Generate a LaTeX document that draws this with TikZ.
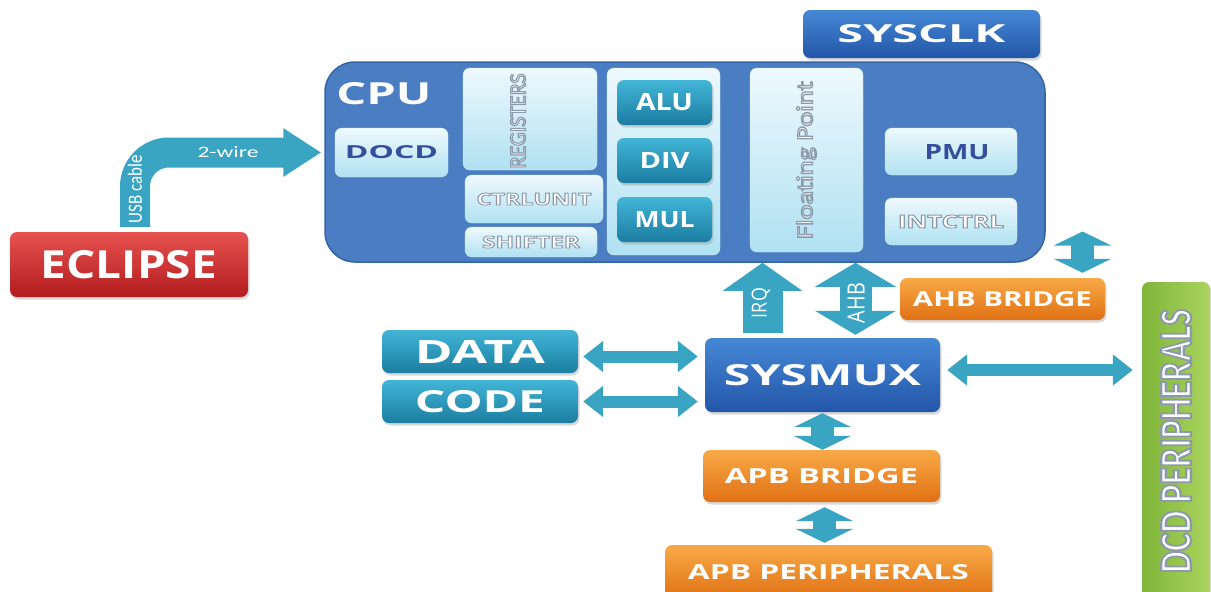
\documentclass[tikz,border=0pt]{standalone}
\usepackage{fontspec}
\setmainfont{Open Sans}
\newfontfamily\calfont{Carlito}
\usetikzlibrary{positioning,arrows.meta,shadows}

% palette
\definecolor{cpublue}{HTML}{4A7DC1}
\definecolor{cpuedge}{HTML}{3464A6}
\definecolor{deeptop}{HTML}{4688D6}
\definecolor{deepbot}{HTML}{2356A8}
\definecolor{icetop}{HTML}{EEF9FD}
\definecolor{icebot}{HTML}{B0E1F2}
\definecolor{tealtop}{HTML}{42B5D6}
\definecolor{tealbot}{HTML}{1B7DA2}
\definecolor{redtop}{HTML}{E6524E}
\definecolor{redbot}{HTML}{B31C20}
\definecolor{orgtop}{HTML}{F8A947}
\definecolor{orgbot}{HTML}{E07114}
\definecolor{limeleft}{HTML}{80B53A}
\definecolor{limeright}{HTML}{AAD45E}
\definecolor{bus}{HTML}{3AA5C3}
\definecolor{inkblue}{HTML}{34509C}

% squeeze a label into w x h (pt)
\newcommand{\sized}[3]{\resizebox{#1pt}{#2pt}{#3}}
% white letters with a grey rim
\newcommand{\rimmed}[1]{\special{pdf:literal direct q 2 Tr 0.5 w 0.55 0.6 0.67 RG}#1\special{pdf:literal direct Q}}

\tikzset{
  box/.style={rounded corners=7pt, inner sep=0pt, text=white, font=\bfseries},
  shadowed/.style={drop shadow={opacity=0.3, shadow xshift=1.5pt, shadow yshift=-2.5pt}},
  cpubox/.style={box, rounded corners=30pt, fill=cpublue, draw=cpuedge, line width=1.5pt},
  bluebox/.style={box, shadowed, top color=deeptop, bottom color=deepbot},
  icebox/.style={box, top color=icetop, bottom color=icebot, draw=icetop!60!icebot},
  tealbox/.style={box, shadowed, top color=tealtop, bottom color=tealbot},
  redbox/.style={box, shadowed, top color=redtop, bottom color=redbot},
  orangebox/.style={box, shadowed, top color=orgtop, bottom color=orgbot},
  limebox/.style={box, shadowed, left color=limeleft, right color=limeright},
  lbl/.style={inner sep=0pt, text=white, font=\bfseries},
  ink/.style={text=inkblue},
  link/.style={draw=bus, line width=12pt, {Triangle[width=30pt,length=20pt]}-{Triangle[width=30pt,length=20pt]}},
  stub/.style={draw=bus, line width=23pt, {Triangle[width=57pt,length=14pt]}-{Triangle[width=57pt,length=14pt]}},
  irqbus/.style={draw=bus, line width=40pt, -{Triangle[width=78pt,length=28pt]}},
  ahbbus/.style={draw=bus, line width=32pt, {Triangle[width=80pt,length=24pt]}-{Triangle[width=80pt,length=24pt]}},
  usbbus/.style={draw=bus, line width=30pt, rounded corners=34pt, -{Triangle[width=46pt,length=38pt]}}
}

\begin{document}
\begin{tikzpicture}[x=1pt,y=-1pt]
\clip (0,0) rectangle (1211,592);

% the core and its parts
\node[cpubox, minimum width=720pt, minimum height=200pt] (cpu) at (685,162) {};
\node[lbl] (cputxt) at (384,94) {\sized{95}{22}{CPU}};
\node[bluebox, minimum width=237pt, minimum height=48pt] (sysclk) at (921.5,34) {\sized{168}{18}{SYSCLK}};

\node[icebox, ink, minimum width=113pt, minimum height=49pt] (docd) at (391.5,152.5) {\sized{93}{13}{DOCD}};
\node[icebox, minimum width=134pt, minimum height=102pt] (regs) at (530,119) {};
\node[lbl] (regstxt) at (518,121) {\rotatebox{90}{\sized{95}{15}{\mdseries\calfont\rimmed{REGISTERS}}}};
\node[icebox, minimum width=138pt, minimum height=48pt] (ctrl) at (534,199) {\sized{115}{12}{\rimmed{CTRLUNIT}}};
\node[icebox, minimum width=132pt, minimum height=30pt] (shift) at (531,242) {\sized{98}{12}{\rimmed{SHIFTER}}};

\node[icebox, minimum width=113pt, minimum height=187pt] (aluframe) at (663.5,161.5) {};
\node[tealbox, minimum width=95pt, minimum height=45pt] (alu) at (664.5,102.5) {\sized{57}{17}{ALU}};
\node[tealbox, minimum width=95pt, minimum height=45pt] (div) at (664.5,160.5) {\sized{50}{16}{DIV}};
\node[tealbox, minimum width=95pt, minimum height=45pt] (mul) at (664.5,219.5) {\sized{60}{16}{MUL}};

\node[icebox, minimum width=113pt, minimum height=184pt] (fpu) at (806.5,160) {\rotatebox{90}{\sized{158}{16}{\mdseries\calfont\rimmed{Floating Point}}}};
\node[icebox, minimum width=132pt, minimum height=47pt] (pmu) at (951,151.5) {};
\node[lbl, ink] (pmutxt) at (957,152) {\sized{65}{15}{PMU}};
\node[icebox, minimum width=132pt, minimum height=47pt] (intctrl) at (951,221.5) {\sized{106}{13}{\rimmed{INTCTRL}}};

% debugger side
\node[redbox, minimum width=238pt, minimum height=65pt] (eclipse) at (129,264.5) {\sized{176}{28}{ECLIPSE}};

% buses and memories
\node[tealbox, minimum width=196pt, minimum height=43pt] (data) at (480,351.5) {\sized{130}{23}{DATA}};
\node[tealbox, minimum width=196pt, minimum height=43pt] (code) at (480,401.5) {\sized{130}{22}{CODE}};
\node[bluebox, minimum width=235pt, minimum height=74pt] (sysmux) at (822.5,375) {\sized{197}{21}{SYSMUX}};
\node[orangebox, minimum width=205pt, minimum height=42pt] (ahbbr) at (1002.5,299) {\sized{179}{15}{AHB BRIDGE}};
\node[limebox, minimum width=68pt, minimum height=318pt] (dcd) at (1176,441) {\rotatebox{90}{\sized{264}{30}{\calfont\rimmed{DCD PERIPHERALS}}}};
\node[orangebox, minimum width=237pt, minimum height=52pt] (apbbr) at (821.5,476) {\sized{193}{15}{APB BRIDGE}};
\node[orangebox, minimum width=327pt, minimum height=55pt] (apbper) at (828.5,572.5) {\sized{281}{15}{APB PERIPHERALS}};

% connections
\draw[usbbus, shorten <=5pt, shorten >=3pt] ([xshift=6pt]eclipse.north) |- (cpu.west |- docd.west);
\node[lbl, font=\mdseries] (usbtxt) at (135,189) {\rotatebox{90}{\sized{68}{14}{\calfont USB cable}}};
\node[lbl, font=\mdseries] (wiretxt) at (228,152) {\sized{61}{11}{\calfont 2-wire}};

\draw[irqbus, shorten <=5pt] ([xshift=-60pt]sysmux.north) -- ([xshift=-60pt]sysmux.north |- cpu.south);
\node[lbl, font=\mdseries] (irqtxt) at (761,303) {\rotatebox{90}{\sized{30}{15}{IRQ}}};
\draw[ahbbus, shorten <=3pt] ([xshift=33pt]sysmux.north) -- ([xshift=33pt]sysmux.north |- cpu.south);
\node[lbl, font=\mdseries] (ahbtxt) at (856,303) {\rotatebox{90}{\sized{40}{17}{AHB}}};
\draw[stub, shorten <=5pt, shorten >=10pt] ([xshift=80pt]ahbbr.north) -- ([xshift=80pt]ahbbr.north |- intctrl.center);

\draw[link, shorten <=5pt, shorten >=7pt] ([yshift=-5pt]data.east) -- ([yshift=-5pt]data.east -| sysmux.west);
\draw[link, shorten <=5pt, shorten >=7pt] (code.east) -- (code.east -| sysmux.west);
\draw[link, shorten <=7pt, shorten >=9pt] ([yshift=5pt]sysmux.east) -- ([yshift=5pt]sysmux.east -| dcd.west);

\draw[stub, shorten <=1pt] (sysmux.south) -- (sysmux.south |- apbbr.north);
\draw[stub, shorten <=5pt, shorten >=2pt] ([xshift=3pt]apbbr.south) -- ([xshift=3pt]apbbr.south |- apbper.north);
\end{tikzpicture}
\end{document}
